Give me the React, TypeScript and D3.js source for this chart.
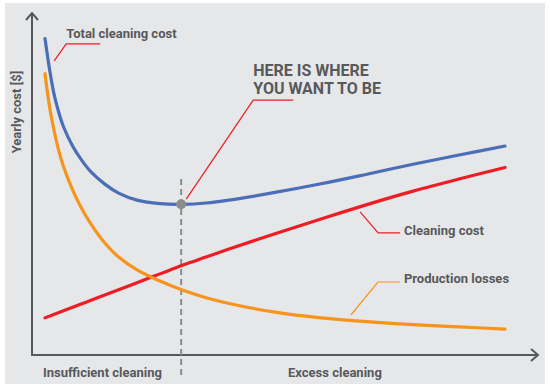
import { scaleLinear, line, curveCatmullRom } from "d3";

// cleaning effort (arbitrary units) and yearly cost (arbitrary units)
const effort = [0, 1, 2, 3, 4, 6, 8, 10, 13, 16, 20, 25, 30, 35, 40, 50, 60, 70, 80, 90, 100];
const totalCost = [98.9, 89.2, 81.3, 75.8, 71.4, 65.3, 60.8, 57.2, 53.4, 50.6, 48.4, 47.3, 47.1, 47.5, 48.4, 50.8, 53.5, 56.5, 59.6, 62.5, 65.3];
const cleaningCost = [11.6, 12.15, 12.7, 13.25, 13.8, 14.9, 16.0, 17.1, 18.75, 20.4, 22.6, 25.35, 28.1, 30.6, 33.1, 37.9, 42.5, 47.0, 51.2, 55.0, 58.6];
const productionLosses = [87.9, 77.5, 70.0, 63.8, 59.0, 51.6, 45.7, 40.9, 35.0, 30.6, 26.6, 23.1, 20.2, 17.9, 16.1, 13.4, 11.6, 10.4, 9.5, 8.8, 8.1];

const optimum = { x: 29.6, y: 47.1 };

const width = 550;
const height = 390;
const x0 = 32;
const xAxisEnd = 538;
const yAxisTop = 13;
const y0 = 355;

const textColor = "#58595b";
const axisColor = "#58595b";
const blue = "#4a6eb8";
const red = "#ee1c24";
const orange = "#f7941d";
const font = "Roboto, 'Open Sans', sans-serif";

const xScale = scaleLinear().domain([0, 100]).range([45, 505]);
const yScale = scaleLinear().domain([0, 100]).range([y0, 35]);

const series = [
  { name: "Total cleaning cost", values: totalCost, color: blue },
  { name: "Cleaning cost", values: cleaningCost, color: red },
  { name: "Production losses", values: productionLosses, color: orange },
];

const lineGen = line<number>()
  .x((_, i) => xScale(effort[i]))
  .y((d) => yScale(d))
  .curve(curveCatmullRom.alpha(0.5));

// annotation leaders: anchor in data units, elbow offsets in px, label placement
const annotations = [
  { lines: ["Total cleaning cost"], ax: 2, ay: 91.9, color: red, dx: 12, dy: -17, len: 34, size: 13, tx: 0, ty: -6 },
  { lines: ["HERE IS WHERE", "YOU WANT TO BE"], ax: 30.7, ay: 48.7, color: red, dx: 67, dy: -99, len: 40, size: 16, tx: 0, ty: -24 },
  { lines: ["Cleaning cost"], ax: 68.5, ay: 44.7, color: red, dx: 18, dy: 21, len: 22, size: 13, tx: 26, ty: 2 },
  { lines: ["Production losses"], ax: 66.5, ay: 12.5, color: orange, dx: 27, dy: -33, len: 22, size: 13, tx: 26, ty: 1 },
];

export default function App() {
  return (
    <svg
      width={width}
      height={height}
      style={{ position: "absolute", left: 0, top: 0 }}
      fontFamily={font}
    >
      <rect x={5} y={3} width={540} height={381} fill="#e6e7e8" />

      {/* axes */}
      <line x1={x0} x2={x0} y1={y0} y2={yAxisTop} stroke={axisColor} strokeWidth={2} />
      <path
        d={`M${x0 - 6},${yAxisTop + 7} L${x0},${yAxisTop} L${x0 + 6},${yAxisTop + 7}`}
        fill="none"
        stroke={axisColor}
        strokeWidth={2}
      />
      <line x1={x0 - 1} x2={xAxisEnd} y1={y0} y2={y0} stroke={axisColor} strokeWidth={2} />
      <path
        d={`M${xAxisEnd - 7},${y0 - 6} L${xAxisEnd},${y0} L${xAxisEnd - 7},${y0 + 6}`}
        fill="none"
        stroke={axisColor}
        strokeWidth={2}
      />

      {/* optimum marker */}
      <line
        x1={xScale(optimum.x)}
        x2={xScale(optimum.x)}
        y1={yScale(55)}
        y2={y0 + 20}
        stroke="#8c8c8c"
        strokeWidth={2}
        strokeDasharray="6 4"
      />

      {series.map((s) => (
        <path
          key={s.name}
          d={lineGen(s.values) ?? ""}
          fill="none"
          stroke={s.color}
          strokeWidth={3.2}
          strokeLinecap="round"
        />
      ))}

      <circle cx={xScale(optimum.x)} cy={yScale(optimum.y)} r={5} fill="#8c8c8c" />

      {annotations.map((a) => {
        const sx = xScale(a.ax);
        const sy = yScale(a.ay);
        const ex = sx + a.dx;
        const ey = sy + a.dy;
        return (
          <g key={a.lines[0]}>
            <polyline
              points={`${sx},${sy} ${ex},${ey} ${ex + a.len},${ey}`}
              fill="none"
              stroke={a.color}
              strokeWidth={1.2}
            />
            <text y={ey + a.ty} fontSize={a.size} fontWeight={700} fill={textColor}>
              {a.lines.map((t, i) => (
                <tspan key={t} x={ex + a.tx} dy={i === 0 ? 0 : 18}>
                  {t}
                </tspan>
              ))}
            </text>
          </g>
        );
      })}

      {/* axis labels */}
      <text x={43} y={377} fontSize={13} fontWeight={700} fill={textColor}>
        Insufficient cleaning
      </text>
      <text x={288} y={377} fontSize={13} fontWeight={700} fill={textColor}>
        Excess cleaning
      </text>
      <text
        transform="translate(21,112) rotate(-90)"
        textAnchor="middle"
        fontSize={13}
        fontWeight={700}
        fill={textColor}
      >
        Yearly cost [$]
      </text>
    </svg>
  );
}
